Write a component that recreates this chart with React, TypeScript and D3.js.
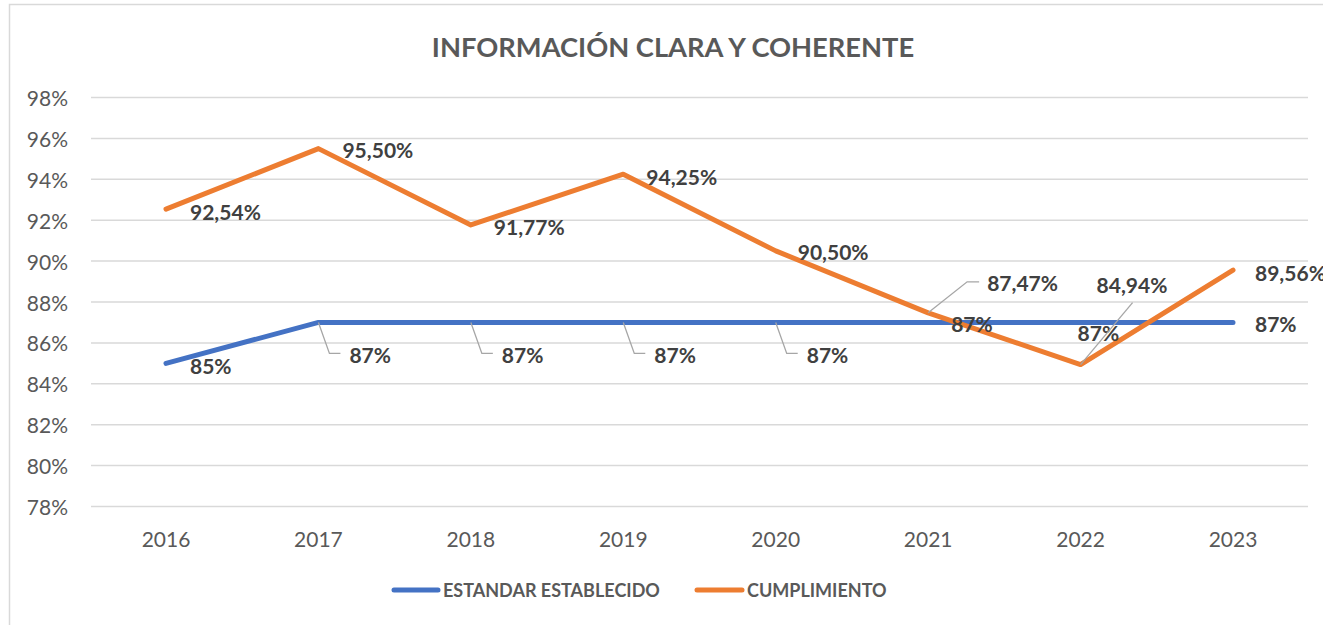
import React from "react";
import * as d3 from "d3";

const title = "INFORMACIÓN CLARA Y COHERENTE";
const years = ["2016", "2017", "2018", "2019", "2020", "2021", "2022", "2023"];
const estandar = [85, 87, 87, 87, 87, 87, 87, 87];
const cumplimiento = [92.54, 95.5, 91.77, 94.25, 90.5, 87.47, 84.94, 89.56];
const estandarLabels = ["85%", "87%", "87%", "87%", "87%", "87%", "87%", "87%"];
const cumplimientoLabels = ["92,54%", "95,50%", "91,77%", "94,25%", "90,50%", "87,47%", "84,94%", "89,56%"];
const yTicks = [78, 80, 82, 84, 86, 88, 90, 92, 94, 96, 98];
const seriesNames = ["ESTANDAR ESTABLECIDO", "CUMPLIMIENTO"];

// label placement offsets (dx to text start, dy to text center) and leader lines
const orangeOff: [number, number][] = [
  [24, 2], [24, 1], [23, 2], [23, 2], [22, 1], [59, -30], [16, -80], [22, 2],
];
const orangeLeader: (null | [number, number][])[] = [
  null, null, null, null, null,
  [[0, 0], [39, -31], [51, -31]],
  [[0, 0], [52, -62]],
  null,
];
const blueOff: [number, number][] = [
  [24, 2], [31, 32], [31, 32], [31, 32], [31, 32], [23, 1], [-3, 10], [22, 1],
];
const blueLeader: (null | [number, number][])[] = [
  null,
  [[0, 0], [11, 31], [22, 31]],
  [[0, 0], [11, 31], [22, 31]],
  [[0, 0], [11, 31], [22, 31]],
  [[0, 0], [11, 31], [22, 31]],
  null, null, null,
];

const FONT = "Lato, 'Open Sans', sans-serif";
const BLUE = "#4472C4";
const ORANGE = "#ED7D31";
const TXT = "#595959";
const LBL = "#404040";

export default function App() {
  const W = 1323, H = 625;
  const x = d3.scalePoint<string>().domain(years).range([166, 1233]);
  const y = d3.scaleLinear().domain([78, 98]).range([506.5, 97.5]);
  const line = d3
    .line<number>()
    .x((_, i) => x(years[i])!)
    .y((d) => y(d));

  const renderLabels = (
    vals: number[],
    labels: string[],
    offs: [number, number][],
    leaders: (null | [number, number][])[]
  ) =>
    vals.map((v, i) => {
      const px = x(years[i])!;
      const py = y(v);
      const ld = leaders[i];
      return (
        <g key={i}>
          {ld && (
            <polyline
              points={ld.map(([a, b]) => `${px + a},${py + b}`).join(" ")}
              fill="none"
              stroke="#a6a6a6"
              strokeWidth={1.3}
            />
          )}
          <text
            x={px + offs[i][0]}
            y={py + offs[i][1]}
            dominantBaseline="central"
            fontFamily={FONT}
            fontWeight={700}
            fontSize={21}
            fill={LBL}
          >
            {labels[i]}
          </text>
        </g>
      );
    });

  return (
    <svg
      width={W}
      height={H}
      style={{ position: "absolute", left: 0, top: 0, background: "#fff" }}
    >
      <rect x={9.5} y={4.5} width={1340} height={650} fill="#fff" stroke="#d9d9d9" strokeWidth={1.5} />
      <text
        x={673}
        y={46}
        textAnchor="middle"
        dominantBaseline="central"
        fontFamily={FONT}
        fontWeight={700}
        fontSize={27.3}
        fill={TXT}
      >
        {title}
      </text>
      {yTicks.map((t) => (
        <g key={t}>
          <line x1={91} x2={1308} y1={y(t)} y2={y(t)} stroke="#d9d9d9" strokeWidth={1.5} />
          <text
            x={68}
            y={y(t)}
            textAnchor="end"
            dominantBaseline="central"
            fontFamily={FONT}
            fontSize={21}
            fill={TXT}
          >
            {t}%
          </text>
        </g>
      ))}
      {years.map((yr) => (
        <text
          key={yr}
          x={x(yr)}
          y={538}
          textAnchor="middle"
          dominantBaseline="central"
          fontFamily={FONT}
          fontSize={21}
          fill={TXT}
        >
          {yr}
        </text>
      ))}
      <path d={line(estandar)!} fill="none" stroke={BLUE} strokeWidth={5} strokeLinecap="round" strokeLinejoin="round" />
      <path d={line(cumplimiento)!} fill="none" stroke={ORANGE} strokeWidth={5} strokeLinecap="round" strokeLinejoin="round" />
      {renderLabels(estandar, estandarLabels, blueOff, blueLeader)}
      {renderLabels(cumplimiento, cumplimientoLabels, orangeOff, orangeLeader)}
      {/* legend */}
      <line x1={394} x2={438} y1={590} y2={590} stroke={BLUE} strokeWidth={5} strokeLinecap="round" />
      <text x={443} y={590} dominantBaseline="central" fontFamily={FONT} fontWeight={700} fontSize={18} fill={TXT}>
        {seriesNames[0]}
      </text>
      <line x1={697} x2={742} y1={590} y2={590} stroke={ORANGE} strokeWidth={5} strokeLinecap="round" />
      <text x={747} y={590} dominantBaseline="central" fontFamily={FONT} fontWeight={700} fontSize={18} fill={TXT}>
        {seriesNames[1]}
      </text>
    </svg>
  );
}
